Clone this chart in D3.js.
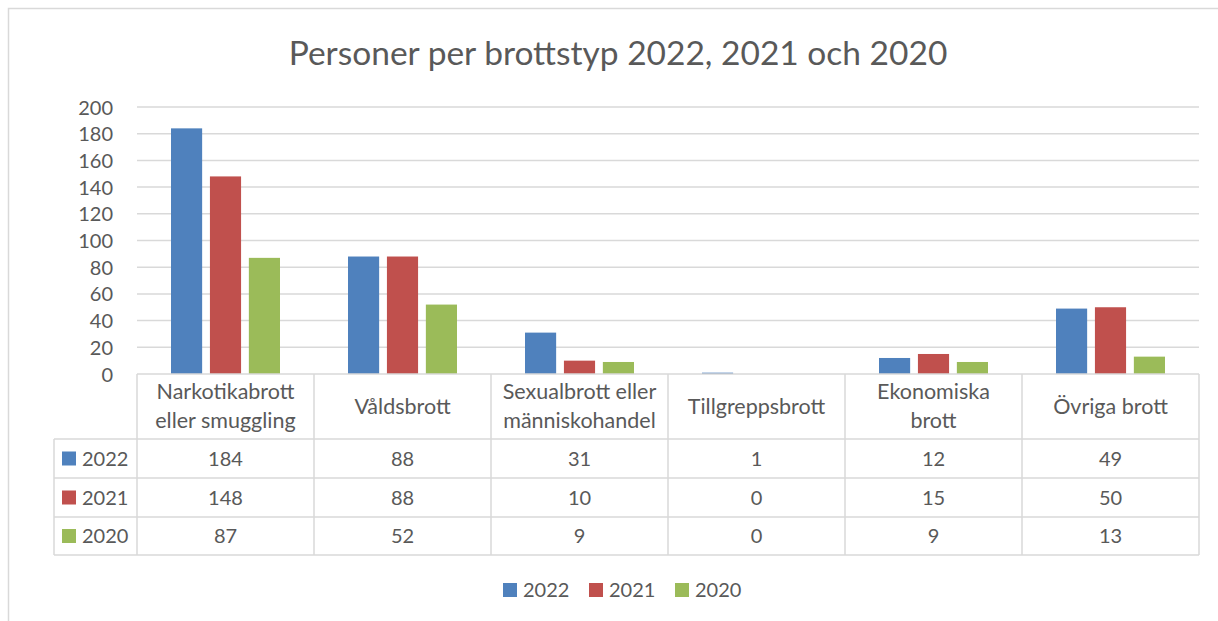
<!DOCTYPE html>
<html><head><meta charset="utf-8">
<script src="https://cdn.jsdelivr.net/npm/d3@7"></script>
<style>html,body{margin:0;padding:0;background:#fff;}svg{display:block;}</style>
</head><body>
<svg id="c" width="1218" height="621"></svg>
<script>
const title = "Personer per brottstyp 2022, 2021 och 2020";
const categories = [["Narkotikabrott","eller smuggling"],["Våldsbrott"],["Sexualbrott eller","människohandel"],["Tillgreppsbrott"],["Ekonomiska","brott"],["Övriga brott"]];
const seriesNames = ["2022","2021","2020"];
const values2022 = [184, 88, 31, 1, 12, 49];
const values2021 = [148, 88, 10, 0, 15, 50];
const values2020 = [87, 52, 9, 0, 9, 13];
const yTicks = [0,20,40,60,80,100,120,140,160,180,200];
const colors = ["#4f81bd","#c0504d","#9bbb59"];
const series = [values2022, values2021, values2020];

const svg = d3.select("#c");
const font = "Lato, 'Open Sans', sans-serif";
const txt = "#595959", grid = "#d9d9d9";
const fs = 20, fsCat = 21.5;

svg.append("rect").attr("x",8.5).attr("y",8.5).attr("width",1230).attr("height",640)
  .attr("fill","#fff").attr("stroke",grid).attr("stroke-width",1.5);

const L = 137, R = 1199, T = 107, B = 374;
const x = d3.scaleBand().domain(d3.range(categories.length)).range([L,R]).paddingInner(0).paddingOuter(0);
const x1 = d3.scaleBand().domain(d3.range(series.length)).range([34, x.bandwidth()-34]).paddingInner(0.2);
const y = d3.scaleLinear().domain([0,200]).range([B,T]);

svg.append("g").selectAll("line").data(yTicks.filter(t=>t>0)).join("line")
  .attr("x1",L).attr("x2",R).attr("y1",d=>y(d)).attr("y2",d=>y(d))
  .attr("stroke",grid).attr("stroke-width",1.5);

const yAxis = d3.axisLeft(y).tickValues(yTicks).tickSize(0).tickPadding(0);
const ga = svg.append("g").attr("transform","translate(113,0)").call(yAxis);
ga.select(".domain").remove();
ga.selectAll("text").attr("font-family",font).attr("font-size",fs).attr("fill",txt).attr("dy","0.35em");

series.forEach((vals,si)=>{
  svg.append("g").selectAll("rect").data(vals).join("rect")
    .attr("x",(d,i)=>x(i)+x1(si)).attr("width",x1.bandwidth())
    .attr("y",d=>y(d)).attr("height",d=>B-y(d)).attr("fill",colors[si]);
});

const rowY = [374, 439, 478, 517, 555];
const tLeft = 54;
const tg = svg.append("g").attr("stroke",grid).attr("stroke-width",1.5);
tg.append("line").attr("x1",L).attr("x2",R).attr("y1",B).attr("y2",B);
[439,478,517,555].forEach(yy=>tg.append("line").attr("x1",tLeft).attr("x2",R).attr("y1",yy).attr("y2",yy));
tg.append("line").attr("x1",tLeft).attr("x2",tLeft).attr("y1",439).attr("y2",555);
d3.range(categories.length+1).forEach(i=>{
  const xx = i<categories.length ? x(i) : R;
  tg.append("line").attr("x1",xx).attr("x2",xx).attr("y1",B).attr("y2",555);
});

categories.forEach((lines,i)=>{
  const cx = x(i)+x.bandwidth()/2;
  const t = svg.append("text").attr("x",cx).attr("text-anchor","middle")
    .attr("font-family",font).attr("font-size",fsCat).attr("fill",txt);
  const baseY = lines.length===2 ? 399 : 414;
  lines.forEach((ln,k)=>t.append("tspan").attr("x",cx).attr("y",baseY+k*29).text(ln));
});

series.forEach((vals,si)=>{
  const cy = (rowY[si+1]+rowY[si+2])/2;
  svg.append("rect").attr("x",62).attr("y",cy-7).attr("width",14).attr("height",14).attr("fill",colors[si]);
  svg.append("text").attr("x",82).attr("y",cy).attr("dy","0.35em").attr("font-family",font)
    .attr("font-size",fs).attr("fill",txt).text(seriesNames[si]);
  svg.append("g").selectAll("text").data(vals).join("text")
    .attr("x",(d,i)=>x(i)+x.bandwidth()/2).attr("y",cy).attr("dy","0.35em").attr("text-anchor","middle")
    .attr("font-family",font).attr("font-size",fs).attr("fill",txt).text(d=>d);
});

svg.append("text").attr("x",618).attr("y",65).attr("text-anchor","middle")
  .attr("font-family",font).attr("font-size",33.5).attr("fill",txt).text(title);

const legX = [503, 589, 675];
seriesNames.forEach((n,i)=>{
  svg.append("rect").attr("x",legX[i]).attr("y",583).attr("width",14).attr("height",14).attr("fill",colors[i]);
  svg.append("text").attr("x",legX[i]+20).attr("y",590).attr("dy","0.35em").attr("font-family",font)
    .attr("font-size",fs).attr("fill",txt).text(n);
});
</script>
</body></html>
